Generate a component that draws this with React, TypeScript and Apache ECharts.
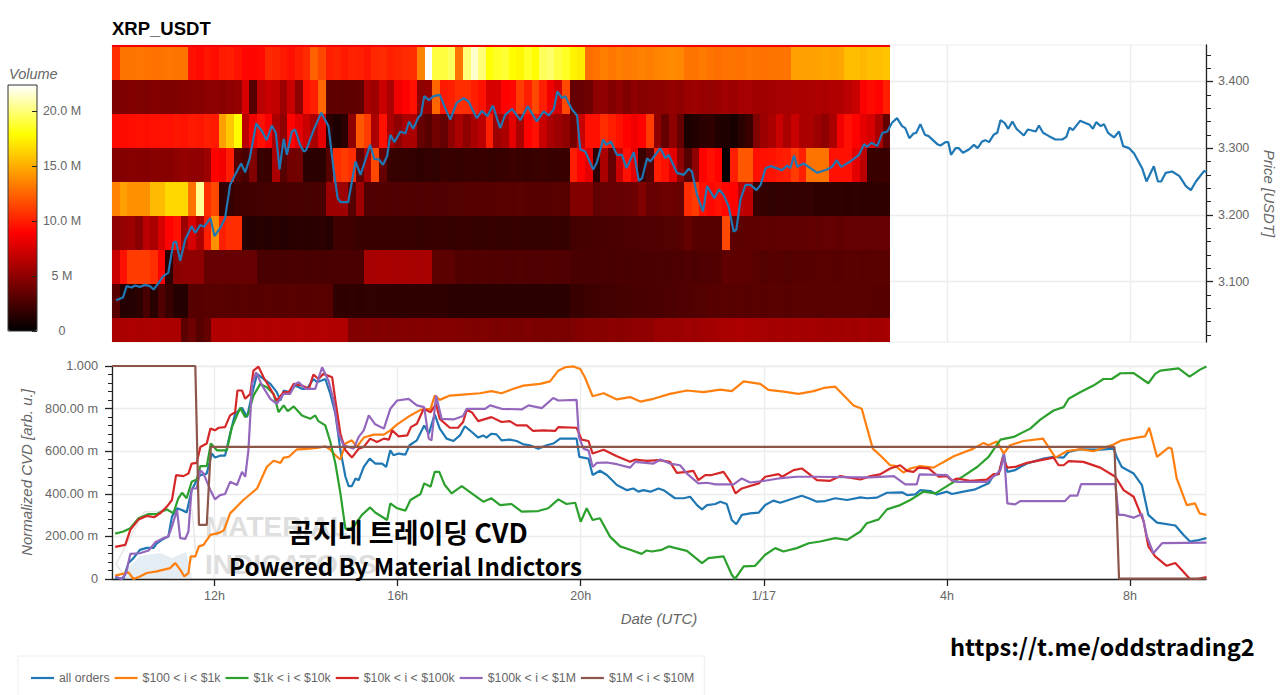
import React, { useEffect, useRef } from "react";
import * as echarts from "echarts";

const FONT = '"Liberation Sans", Arial, sans-serif';
const CJK = '"Noto Sans CJK KR", "Noto Sans", sans-serif';
const GREY = "#666666";

// x positions are hours since 00:00 on the first day (24 = 1/17)
const hourTicks = [12, 16, 20, 24, 28, 32];
const volumeTicks = [0, 5, 10, 15, 20];
const priceTicks = [3.1, 3.2, 3.3, 3.4];
const priceMinorTicks = [3.02, 3.04, 3.06, 3.08, 3.12, 3.14, 3.16, 3.18, 3.22, 3.24, 3.26, 3.28, 3.32, 3.34, 3.36, 3.38, 3.42, 3.44];
const hourMin = 9.76;
const hourMax = 33.66;
const priceMin = 3.0093;
const priceMax = 3.4547;
const volumeMax = 22.36;

const heatStartHour = 9.76;
const heatBinHours = 1 / 6;
const heatBinPrice = 0.0509;
const heatRowLows = [3.4524, 3.4015, 3.3506, 3.2997, 3.2488, 3.1979, 3.147, 3.0961, 3.0452, 2.9943];

const row345 = [
  8.5, 8.5, 8.5, 8.5, 8.5, 8.5, 8.5, 8.5, 8.5, 8.5, 8.5, 8.5, 8.5, 8.5, 8.5, 8.5, 8.5, 8.5, 8.5, 8.5,
  8.5, 8.5, 8.5, 8.5, 8.5, 8.5, 8.5, 8.5, 8.5, 8.5, 8.5, 8.5, 8.5, 8.5, 8.5, 8.5, 8.5, 8.5, 8.5, 8.5,
  8.5, 8.5, 8.5, 8.5, 8.5, 8.5, 8.5, 8.5, 8.5, 8.5, 8.5, 8.5, 8.5, 8.5, 8.5, 8.5, 8.5, 8.5, 8.5, 8.5,
  8.5, 8.5, 8.5, 8.5, 8.5, 8.5, 8.5, 8.5, 8.5, 8.5, 8.5, 8.5, 8.5, 8.5, 8.5, 8.5, 8.5, 8.5, 8.5, 8.5,
  8.5, 8.5, 8.5, 8.5, 8.5, 8.5, 8.5, 8.5, 8.5, 8.5, 8.5, 8.5, 8.5, 8.5, 8.5, 8.5, 8.5, 8.5, 8.5, 8.5,
  8.5, 8.5,
];
const row340 = [
  10.5, 13, 13, 13.1, 13, 12.9, 13, 13.1, 13, 13,
  9.5, 9.3, 9.7, 9.4, 9.9, 10, 9.6, 9.2, 9.1, 9.3,
  10.4, 10.2, 9.8, 9.5, 10, 10.4, 12.3, 11.4, 10, 10.2,
  9.8, 10.1, 10, 9.7, 10.3, 10.4, 10, 10.2, 10.4, 10.6,
  13.6, 22.3, 19, 19, 19.5, 13, 20, 21.5, 20, 18,
  18.5, 18.8, 17.8, 17.6, 18.5, 17.8, 19.5, 19.8, 19, 18.5,
  17.5, 17.2, 12.7, 13, 13.4, 13.1, 13.4, 13.2, 13.3, 13.5,
  13.3, 13.6, 13.7, 13.8, 13.7, 13, 13, 13.2, 13, 12.8,
  13, 13, 12.9, 13.1, 13, 12.9, 13, 13, 13, 14.6,
  14.6, 14.6, 14.6, 14.8, 14.6, 14.8, 15.6, 15.6, 15.4, 15.6, 15.6, 15.8,
];
const row335 = [
  4.4, 4.4, 4.5, 4.5, 4.4, 4.6, 4.5, 4.4, 4.5, 4.6,
  4.7, 4.7, 4.9, 5, 4.8, 5, 5.2, 7.5, 3, 6.5,
  7, 6.8, 5.5, 7, 5, 9.5, 10, 12.5, 3.3, 3.4,
  3.2, 3.3, 3.4, 6, 5.5, 7, 6, 8.5, 9, 9.5,
  5, 5.2, 12.5, 9.8, 10, 10.5, 10.5, 10, 9.5, 7.5,
  7.5, 9, 9.2, 11, 10, 11.5, 10, 8.5, 7.5, 11.5,
  3.5, 3.6, 3.8, 5, 5, 4.5, 5, 4.4, 5, 4.7,
  4.8, 4.9, 5, 5.2, 5, 5.4, 5.5, 5.3, 5.2, 5.4,
  5.6, 5.5, 5.8, 5.8, 5.6, 5.6, 5.7, 5.8, 5.8, 5.9,
  6, 6, 6.1, 6, 6.2, 6.2, 6.5, 7, 8.8, 9.3, 9, 10,
];
const row330 = [
  9.3, 9.3, 9.4, 9.5, 9.4, 9.5, 9.6, 9.5, 9.7, 9.6,
  9.8, 9.7, 10, 9.8, 14.5, 16, 17.8, 6.5, 8.5, 9.5,
  8.8, 6, 5, 9, 8, 7, 6, 8, 1.5, 1,
  1.5, 5, 12, 11, 6, 9.5, 6, 5, 6, 6,
  3.5, 3, 4, 3.5, 5, 6, 5, 6, 6.5, 10,
  5.5, 6, 8, 6, 9, 9.5, 7, 6, 5.5, 5,
  4, 7, 9.5, 9.5, 10.5, 10, 9.5, 9, 8.5, 9,
  11, 5, 3.5, 5, 3.5, 1, 1.2, 1.5, 1.6, 1.2,
  1.1, 0.8, 1.5, 2, 4.5, 5.5, 6, 7, 6, 7,
  6, 6, 5.5, 5, 6, 8.5, 9.5, 9, 8, 7.5, 6, 3.5,
];
const row325 = [
  4.6, 4.6, 4.7, 4.7, 4.6, 4.8, 4.8, 4.7, 5, 5.2,
  5, 5, 5.5, 9, 8.5, 10, 3, 2.5, 4.5, 2,
  2, 6, 3, 4, 4, 1.5, 1.5, 1.5, 3, 10.5,
  11, 10.5, 3.5, 6, 11.5, 3.5, 2, 1.8, 1.8, 1.7,
  1.6, 1.8, 1.7, 2, 1.9, 1.8, 2, 1.9, 2, 1.8,
  1.9, 2, 2.1, 2, 1.9, 2, 2.1, 2, 2, 2,
  10, 9, 8, 1.5, 6, 3.5, 7, 9.5, 8, 2,
  3, 10, 9.5, 8, 5, 3, 5, 9, 9.5, 9,
  0.3, 10, 12, 12, 9.5, 9.5, 9.6, 9.8, 10, 11,
  10, 13, 13, 13, 9.5, 9.5, 9.5, 8, 6.5, 2, 2, 2,
];
const row320 = [
  13.5, 14.5, 14, 14, 14, 15.5, 15.5, 16.5, 16.5, 16.5,
  13, 20.5, 10.5, 11.5, 1.8, 1.8, 2.2, 2.2, 2.3, 2.3,
  2.4, 2.4, 2.4, 2.5, 2.5, 2.4, 2.5, 2.5, 5.5, 5.5,
  5.5, 3, 5.5, 2.8, 2.8, 2.9, 2.8, 2.8, 2.9, 2.8,
  2.8, 2.9, 2.8, 2.8, 2.9, 2.9, 3, 3, 3, 3,
  3, 3.1, 3, 3.1, 3, 3, 3, 3, 3.1, 3,
  4.5, 4.5, 4.5, 3.4, 3.5, 3.6, 3.5, 3.6, 3.8, 4.5,
  3.6, 3.6, 3.8, 3.7, 3.6, 10.5, 11, 9.5, 9.2, 9.5,
  9.2, 9, 6.5, 6.5, 2, 1.8, 1.7, 1.8, 1.7, 1.8,
  1.7, 1.8, 1.6, 1.7, 1.6, 1.7, 1.6, 1.7, 1.6, 1.6, 1.7, 1.6,
];
const row315 = [
  5, 5.2, 5.5, 4.8, 6.5, 6, 7.5, 9, 9.5, 5.5,
  7.5, 6, 10, 14, 10, 10.5, 10.5, 1.3, 1.3, 1.4,
  1.3, 1.4, 1.3, 1.4, 1.5, 1.4, 1.5, 1.5, 1.3, 2.2,
  2.2, 2.2, 2, 2, 2, 1.9, 2, 1.9, 2, 1.9,
  1.8, 1.9, 2, 1.9, 1.8, 1.9, 1.9, 1.8, 1.8, 1.9,
  1.9, 1.8, 1.9, 1.9, 1.8, 1.9, 1.8, 1.9, 1.9, 1.8,
  2.3, 2.4, 2.4, 2.5, 2.5, 2.6, 2.6, 2.7, 2.7, 2.8,
  2.8, 2.8, 2.9, 2.9, 3, 3.5, 3, 3, 3, 3,
  11.5, 3.2, 3.2, 3.3, 3.3, 3.4, 3.3, 3.4, 3.4, 3.4,
  3.4, 3.5, 3.4, 3.5, 3.5, 3.4, 3.5, 3.5, 3.5, 3.5, 3.5, 3.6,
];
const row310 = [
  7, 9.5, 11, 11, 11, 10.5, 9, 1.5, 4.8, 5,
  5, 5, 3.6, 3.6, 3.6, 3.6, 3.6, 3.6, 3.6, 2.6,
  2.6, 2.6, 2.5, 2.6, 2.6, 2.5, 2.6, 2.5, 2.6, 2.6,
  2.6, 2.5, 2.6, 5.8, 5.8, 5.9, 5.8, 5.8, 5.9, 5.8,
  5.8, 5.9, 3.2, 3.2, 3.2, 2.8, 2.9, 2.8, 2.9, 2.8,
  2.9, 2.8, 2.8, 2.9, 2.8, 2.8, 2.8, 2.9, 2.8, 2.8,
  2.6, 2.5, 2.5, 2.5, 2.6, 2.5, 2.6, 2.5, 2.6, 2.6,
  2.6, 2.7, 2.6, 2.7, 2.7, 2.8, 2.7, 2.8, 2.8, 2.9,
  3.4, 3.2, 3.3, 3.2, 3, 2.9, 3, 3, 2.9, 3,
  3, 3, 3, 3.1, 3, 3, 3.1, 3.1, 3, 3.1, 3.1, 3.1,
];
const row305 = [
  3, 1.3, 1.3, 1.5, 2.5, 1.4, 2.8, 2, 1.3, 1.3,
  3, 3, 3.1, 3, 3.1, 3, 3, 3.1, 3, 3,
  3.1, 3, 3, 3.1, 3, 3, 3, 3.1, 3, 1.7,
  1.6, 1.7, 1.6, 1.7, 1.7, 1.6, 1.7, 1.6, 1.6, 1.7,
  1.6, 1.7, 1.6, 1.6, 1.5, 1.5, 1.5, 1.5, 1.5, 1.5,
  1.5, 1.5, 1.5, 1.5, 1.5, 1.5, 1.5, 1.5, 1.5, 1.5,
  2, 2, 2.2, 2.2, 2.3, 2.3, 2.4, 2.4, 2.5, 2.5,
  2.6, 2.6, 2.7, 2.7, 2.8, 2.8, 2.9, 2.9, 3, 3,
  3.1, 3, 3.1, 3, 3.1, 3, 3.1, 3.1, 3, 3.1,
  3.1, 3.1, 3, 3.1, 3.1, 3.1, 3.1, 3.1, 3.1, 3, 3, 3,
];
const row300 = [
  6, 6, 6.1, 6, 6, 6.1, 6, 6, 6, 3.2,
  3.8, 3, 3.5, 6.2, 6.2, 6.2, 6.3, 6.2, 6.2, 6.3,
  6.2, 6.3, 6.2, 6.2, 6.3, 6.2, 6.2, 6.3, 6.2, 6.2,
  6.2, 4.5, 4.5, 4.6, 4.5, 4.6, 4.5, 4.5, 4.6, 4.5,
  4.6, 4.5, 4.6, 4.6, 4.6, 4.5, 4.5, 4.4, 4.5, 4.4,
  4.3, 4.4, 4.3, 4.3, 4.4, 4.3, 4.3, 4.2, 4.3, 4.2,
  4.4, 4.6, 4.8, 4.7, 4.8, 4.9, 4.8, 4.9, 5, 5,
  5, 5.4, 5.5, 5.4, 5.5, 5.6, 5.5, 5.6, 5.7, 5.8,
  6, 6, 6.1, 6, 5.9, 5.8, 5.7, 5.8, 5.7, 5.8,
  5.7, 5.8, 5.7, 5.6, 5.7, 5.6, 5.7, 5.6, 5.8, 5.6, 5.7, 5.8,
];
const heatRows = [row345, row340, row335, row330, row325, row320, row315, row310, row305, row300];

const price = [
  [9.85, 3.072], [10.0, 3.076], [10.08, 3.093], [10.19, 3.091], [10.26, 3.094], [10.37, 3.092], [10.48, 3.095], [10.59, 3.093], [10.67, 3.088], [10.78, 3.098],
  [10.88, 3.108], [10.99, 3.113], [11.1, 3.158], [11.16, 3.16], [11.25, 3.131], [11.36, 3.163], [11.5, 3.183], [11.58, 3.173], [11.69, 3.185], [11.77, 3.182],
  [11.91, 3.195], [12.0, 3.168], [12.12, 3.18], [12.23, 3.195], [12.34, 3.245], [12.45, 3.26], [12.58, 3.277], [12.67, 3.264], [12.77, 3.285], [12.91, 3.337],
  [13.04, 3.325], [13.14, 3.312], [13.25, 3.334], [13.34, 3.323], [13.42, 3.268], [13.51, 3.314], [13.58, 3.29], [13.69, 3.325], [13.76, 3.328], [13.87, 3.305],
  [13.95, 3.295], [14.0, 3.297], [14.17, 3.328], [14.33, 3.353], [14.49, 3.333], [14.6, 3.268], [14.69, 3.225], [14.75, 3.219], [14.92, 3.219], [15.08, 3.28],
  [15.19, 3.26], [15.4, 3.305], [15.49, 3.284], [15.59, 3.283], [15.68, 3.275], [15.77, 3.288], [15.84, 3.32], [15.93, 3.309], [16.06, 3.325], [16.17, 3.322],
  [16.25, 3.34], [16.34, 3.329], [16.46, 3.347], [16.51, 3.35], [16.58, 3.378], [16.68, 3.372], [16.79, 3.378], [16.92, 3.38], [17.04, 3.36], [17.15, 3.343],
  [17.29, 3.368], [17.44, 3.375], [17.55, 3.37], [17.62, 3.36], [17.73, 3.345], [17.84, 3.356], [17.96, 3.348], [18.08, 3.364], [18.24, 3.33], [18.35, 3.35],
  [18.5, 3.359], [18.68, 3.342], [18.84, 3.363], [19.04, 3.34], [19.19, 3.355], [19.3, 3.349], [19.41, 3.358], [19.49, 3.385], [19.59, 3.375], [19.66, 3.378],
  [19.81, 3.358], [19.92, 3.349], [19.99, 3.298], [20.1, 3.295], [20.27, 3.268], [20.35, 3.278], [20.49, 3.313], [20.56, 3.305], [20.66, 3.31], [20.79, 3.29],
  [20.9, 3.29], [21.0, 3.27], [21.16, 3.294], [21.27, 3.251], [21.34, 3.255], [21.45, 3.285], [21.52, 3.28], [21.74, 3.3], [21.85, 3.285], [21.92, 3.29],
  [22.1, 3.263], [22.25, 3.26], [22.36, 3.269], [22.43, 3.265], [22.54, 3.23], [22.67, 3.205], [22.76, 3.243], [22.92, 3.225], [23.02, 3.238], [23.12, 3.23],
  [23.23, 3.213], [23.34, 3.175], [23.4, 3.178], [23.49, 3.223], [23.6, 3.245], [23.71, 3.245], [23.84, 3.237], [23.93, 3.245], [24.04, 3.27], [24.15, 3.273],
  [24.4, 3.267], [24.51, 3.274], [24.58, 3.27], [24.66, 3.289], [24.73, 3.272], [24.87, 3.277], [25.17, 3.263], [25.38, 3.268], [25.49, 3.272], [25.59, 3.282],
  [25.69, 3.272], [25.89, 3.28], [26.08, 3.29], [26.19, 3.306], [26.26, 3.302], [26.35, 3.308], [26.48, 3.303], [26.59, 3.323], [26.7, 3.325], [26.8, 3.338],
  [26.91, 3.345], [27.02, 3.333], [27.09, 3.33], [27.18, 3.315], [27.27, 3.322], [27.33, 3.323], [27.42, 3.336], [27.52, 3.32], [27.6, 3.318], [27.79, 3.306],
  [27.86, 3.304], [27.97, 3.309], [28.03, 3.309], [28.09, 3.29], [28.19, 3.3], [28.26, 3.3], [28.35, 3.293], [28.48, 3.298], [28.59, 3.305], [28.67, 3.3],
  [28.77, 3.31], [28.84, 3.312], [28.92, 3.309], [29.02, 3.32], [29.1, 3.323], [29.17, 3.342], [29.26, 3.338], [29.34, 3.329], [29.43, 3.34], [29.52, 3.329],
  [29.68, 3.319], [29.77, 3.328], [29.94, 3.325], [30.01, 3.334], [30.1, 3.323], [30.23, 3.318], [30.37, 3.313], [30.52, 3.313], [30.61, 3.317], [30.68, 3.331],
  [30.75, 3.327], [30.91, 3.341], [31.05, 3.337], [31.12, 3.335], [31.19, 3.329], [31.26, 3.339], [31.36, 3.333], [31.43, 3.336], [31.52, 3.323], [31.65, 3.316],
  [31.76, 3.325], [31.85, 3.303], [31.98, 3.3], [32.09, 3.292], [32.27, 3.269], [32.36, 3.25], [32.52, 3.273], [32.61, 3.25], [32.68, 3.25], [32.78, 3.263],
  [32.92, 3.265], [33.08, 3.258], [33.22, 3.243], [33.33, 3.237], [33.44, 3.25], [33.62, 3.266], [33.67, 3.264],
];

const allOrders = [
  [9.83, 0.005], [10.01, 0.003], [10.12, 0.075], [10.23, 0.098], [10.37, 0.137], [10.52, 0.146], [10.67, 0.146], [10.74, 0.168], [10.88, 0.188], [10.99, 0.199],
  [11.07, 0.293], [11.18, 0.332], [11.29, 0.324], [11.39, 0.312], [11.5, 0.417], [11.61, 0.464], [11.69, 0.488], [11.83, 0.495], [11.94, 0.589], [12.01, 0.57],
  [12.12, 0.579], [12.23, 0.579], [12.34, 0.682], [12.45, 0.776], [12.6, 0.804], [12.71, 0.76], [12.82, 0.869], [12.93, 0.963], [13.07, 0.939], [13.22, 0.916],
  [13.36, 0.877], [13.44, 0.838], [13.51, 0.885], [13.65, 0.877], [13.76, 0.908], [13.91, 0.893], [14.02, 0.893], [14.16, 0.939], [14.24, 0.924], [14.42, 0.939],
  [14.53, 0.869], [14.64, 0.776], [14.75, 0.604], [14.86, 0.48], [14.93, 0.436], [15.0, 0.436], [15.08, 0.472], [15.15, 0.464], [15.26, 0.526], [15.39, 0.565],
  [15.51, 0.542], [15.66, 0.542], [15.75, 0.526], [15.84, 0.604], [15.91, 0.581], [16.02, 0.589], [16.17, 0.584], [16.26, 0.628], [16.42, 0.651], [16.58, 0.721],
  [16.68, 0.682], [16.81, 0.773], [16.92, 0.706], [17.07, 0.659], [17.22, 0.648], [17.36, 0.674], [17.47, 0.717], [17.62, 0.69], [17.76, 0.664], [17.87, 0.674],
  [17.94, 0.664], [18.05, 0.682], [18.16, 0.679], [18.27, 0.651], [18.45, 0.654], [18.6, 0.648], [18.75, 0.632], [18.89, 0.628], [19.07, 0.612], [19.26, 0.628],
  [19.4, 0.636], [19.55, 0.659], [19.91, 0.659], [19.97, 0.573], [20.17, 0.565], [20.26, 0.488], [20.42, 0.508], [20.57, 0.488], [20.79, 0.441], [21.01, 0.417],
  [21.15, 0.425], [21.26, 0.41], [21.37, 0.417], [21.52, 0.41], [21.7, 0.425], [21.81, 0.417], [22.06, 0.379], [22.25, 0.379], [22.39, 0.386], [22.54, 0.347],
  [22.65, 0.327], [22.76, 0.347], [22.94, 0.352], [23.05, 0.363], [23.19, 0.352], [23.3, 0.277], [23.4, 0.257], [23.52, 0.301], [23.7, 0.308], [23.89, 0.312],
  [24.03, 0.347], [24.21, 0.368], [24.36, 0.358], [24.54, 0.371], [24.83, 0.391], [24.98, 0.379], [25.16, 0.363], [25.34, 0.366], [25.56, 0.379], [25.82, 0.371],
  [26.11, 0.383], [26.25, 0.379], [26.47, 0.382], [26.69, 0.405], [27.02, 0.407], [27.13, 0.394], [27.31, 0.397], [27.42, 0.417], [27.64, 0.413], [27.78, 0.397],
  [28.0, 0.41], [28.11, 0.399], [28.36, 0.41], [28.62, 0.421], [28.91, 0.449], [29.02, 0.488], [29.13, 0.492], [29.24, 0.586], [29.32, 0.503], [29.49, 0.511],
  [29.6, 0.526], [29.75, 0.542], [30.11, 0.565], [30.33, 0.573], [30.55, 0.57], [30.66, 0.597], [30.91, 0.609], [31.35, 0.607], [31.64, 0.612], [31.71, 0.573],
  [31.82, 0.526], [32.08, 0.495], [32.26, 0.441], [32.4, 0.301], [32.59, 0.265], [32.99, 0.251], [33.17, 0.207], [33.31, 0.176], [33.46, 0.181], [33.67, 0.192],
];

const orders100to1k = [
  [9.83, 0.016], [10.12, 0.031], [10.23, 0], [10.37, 0.012], [10.52, 0.028], [10.74, 0.036], [11.03, 0.051], [11.14, 0.075], [11.25, 0.044], [11.34, 0.012],
  [11.43, 0.028], [11.48, 0.106], [11.58, 0.106], [11.66, 0.153], [11.76, 0.16], [11.91, 0.207], [12.12, 0.218], [12.21, 0.231], [12.34, 0.308], [12.49, 0.34],
  [12.63, 0.371], [12.93, 0.425], [13.14, 0.526], [13.29, 0.555], [13.44, 0.545], [13.51, 0.57], [13.62, 0.573], [13.8, 0.609], [14.02, 0.611], [14.24, 0.615],
  [14.42, 0.623], [14.53, 0.607], [14.64, 0.581], [14.75, 0.561], [14.86, 0.636], [15.0, 0.651], [15.11, 0.62], [15.26, 0.664], [15.48, 0.678], [15.7, 0.678],
  [15.84, 0.698], [15.99, 0.726], [16.28, 0.768], [16.5, 0.794], [16.72, 0.799], [16.81, 0.861], [16.92, 0.841], [17.14, 0.861], [17.43, 0.866], [17.8, 0.872],
  [18.05, 0.882], [18.27, 0.872], [18.53, 0.893], [18.75, 0.908], [19.11, 0.916], [19.33, 0.928], [19.51, 0.978], [19.66, 0.994], [19.84, 0.998], [19.99, 0.986],
  [20.09, 0.947], [20.26, 0.858], [20.5, 0.872], [20.79, 0.843], [21.08, 0.854], [21.3, 0.833], [21.59, 0.846], [21.95, 0.869], [22.32, 0.885], [22.68, 0.877],
  [23.05, 0.889], [23.3, 0.882], [23.56, 0.928], [23.92, 0.916], [24.1, 0.888], [24.43, 0.88], [24.76, 0.869], [25.09, 0.882], [25.31, 0.897], [25.56, 0.903],
  [25.78, 0.854], [25.96, 0.815], [26.14, 0.799], [26.25, 0.713], [26.38, 0.612], [26.54, 0.581], [26.76, 0.534], [26.87, 0.531], [27.05, 0.5], [27.2, 0.519],
  [27.42, 0.53], [27.71, 0.523], [27.89, 0.545], [28.15, 0.576], [28.58, 0.612], [28.8, 0.639], [28.91, 0.628], [29.09, 0.646], [29.24, 0.589], [29.38, 0.628],
  [29.67, 0.648], [30.1, 0.659], [30.37, 0.57], [30.62, 0.6], [30.91, 0.609], [31.2, 0.6], [31.64, 0.631], [31.82, 0.651], [32.15, 0.664], [32.33, 0.67],
  [32.42, 0.71], [32.59, 0.573], [32.84, 0.617], [32.91, 0.612], [33.02, 0.472], [33.24, 0.347], [33.42, 0.355], [33.52, 0.308], [33.67, 0.301],
];

const orders1kto10k = [
  [9.83, 0.213], [10.01, 0.223], [10.16, 0.238], [10.34, 0.285], [10.56, 0.305], [10.74, 0.305], [10.88, 0.321], [10.96, 0.327], [11.1, 0.308], [11.21, 0.379],
  [11.29, 0.405], [11.39, 0.379], [11.5, 0.456], [11.61, 0.467], [11.69, 0.53], [11.83, 0.53], [11.92, 0.636], [12.05, 0.604], [12.27, 0.604], [12.38, 0.713],
  [12.56, 0.804], [12.67, 0.76], [12.74, 0.776], [12.85, 0.861], [13.0, 0.916], [13.14, 0.9], [13.29, 0.869], [13.4, 0.783], [13.51, 0.815], [13.6, 0.788],
  [13.73, 0.81], [13.91, 0.768], [14.09, 0.752], [14.2, 0.768], [14.27, 0.741], [14.42, 0.721], [14.53, 0.643], [14.64, 0.542], [14.75, 0.402], [14.86, 0.235],
  [14.97, 0.238], [15.04, 0.246], [15.22, 0.301], [15.4, 0.336], [15.51, 0.312], [15.77, 0.277], [15.84, 0.355], [15.99, 0.332], [16.17, 0.321], [16.28, 0.371],
  [16.5, 0.399], [16.58, 0.449], [16.72, 0.433], [16.81, 0.503], [16.91, 0.503], [17.03, 0.441], [17.18, 0.402], [17.4, 0.436], [17.62, 0.402], [17.87, 0.363],
  [18.05, 0.379], [18.24, 0.347], [18.49, 0.352], [18.71, 0.316], [19.07, 0.319], [19.29, 0.332], [19.51, 0.374], [19.69, 0.352], [19.88, 0.358], [20.0, 0.269],
  [20.13, 0.332], [20.26, 0.277], [20.42, 0.285], [20.64, 0.199], [20.86, 0.153], [21.08, 0.137], [21.33, 0.118], [21.44, 0.134], [21.55, 0.129], [21.77, 0.137],
  [21.92, 0.153], [22.32, 0.132], [22.65, 0.075], [22.79, 0.098], [23.12, 0.106], [23.3, 0.02], [23.37, 0], [23.56, 0.059], [23.81, 0.062], [24.03, 0.114],
  [24.25, 0.145], [24.43, 0.129], [24.72, 0.145], [24.98, 0.168], [25.23, 0.176], [25.56, 0.192], [25.82, 0.184], [26.11, 0.223], [26.25, 0.262], [26.51, 0.28],
  [26.69, 0.327], [26.98, 0.347], [27.2, 0.371], [27.49, 0.41], [27.75, 0.402], [28.0, 0.436], [28.36, 0.483], [28.66, 0.526], [28.91, 0.573], [29.06, 0.62],
  [29.17, 0.654], [29.46, 0.667], [29.82, 0.706], [30.04, 0.748], [30.33, 0.791], [30.55, 0.807], [30.66, 0.846], [30.91, 0.877], [31.2, 0.908], [31.42, 0.939],
  [31.6, 0.939], [31.79, 0.966], [32.08, 0.967], [32.4, 0.919], [32.55, 0.963], [32.66, 0.978], [33.06, 0.989], [33.3, 0.95], [33.53, 0.983], [33.67, 0.998],
];

const orders10kto100k = [
  [9.83, 0.151], [10.05, 0.16], [10.16, 0.231], [10.34, 0.28], [10.52, 0.296], [10.68, 0.29], [10.81, 0.308], [10.96, 0.34], [11.07, 0.371], [11.16, 0.488],
  [11.32, 0.483], [11.43, 0.495], [11.5, 0.542], [11.61, 0.545], [11.69, 0.62], [11.83, 0.636], [11.91, 0.706], [12.01, 0.698], [12.09, 0.71], [12.23, 0.713],
  [12.34, 0.768], [12.45, 0.783], [12.5, 0.885], [12.6, 0.885], [12.67, 0.846], [12.78, 0.869], [12.85, 0.978], [12.96, 0.997], [13.07, 0.947], [13.22, 0.893],
  [13.36, 0.838], [13.51, 0.877], [13.62, 0.877], [13.73, 0.916], [13.91, 0.908], [14.06, 0.893], [14.16, 0.96], [14.27, 0.939], [14.38, 0.963], [14.57, 0.947],
  [14.64, 0.838], [14.75, 0.682], [14.86, 0.604], [15.0, 0.57], [15.15, 0.612], [15.26, 0.62], [15.4, 0.659], [15.55, 0.643], [15.7, 0.659], [15.81, 0.654],
  [15.88, 0.698], [16.02, 0.67], [16.21, 0.674], [16.29, 0.713], [16.42, 0.729], [16.57, 0.799], [16.72, 0.783], [16.84, 0.822], [16.92, 0.752], [17.14, 0.71],
  [17.32, 0.71], [17.43, 0.737], [17.51, 0.794], [17.62, 0.783], [17.76, 0.741], [18.05, 0.76], [18.27, 0.737], [18.45, 0.741], [18.6, 0.721], [18.82, 0.721],
  [18.96, 0.695], [19.18, 0.698], [19.44, 0.695], [19.51, 0.713], [19.91, 0.71], [20.02, 0.654], [20.17, 0.648], [20.26, 0.589], [20.5, 0.607], [20.79, 0.576],
  [21.08, 0.55], [21.19, 0.561], [21.44, 0.555], [21.7, 0.558], [21.95, 0.55], [22.1, 0.498], [22.32, 0.503], [22.46, 0.508], [22.57, 0.464], [22.72, 0.488],
  [22.86, 0.488], [23.12, 0.503], [23.27, 0.456], [23.38, 0.402], [23.52, 0.425], [23.89, 0.449], [24.03, 0.48], [24.32, 0.492], [24.4, 0.48], [24.65, 0.511],
  [24.83, 0.519], [24.98, 0.495], [25.16, 0.464], [25.45, 0.461], [25.67, 0.483], [26.11, 0.467], [26.33, 0.483], [26.54, 0.491], [26.76, 0.519], [26.98, 0.534],
  [27.13, 0.508], [27.27, 0.503], [27.38, 0.523], [27.6, 0.519], [27.82, 0.48], [28.0, 0.483], [28.11, 0.461], [28.22, 0.472], [28.51, 0.461], [28.87, 0.467],
  [29.02, 0.492], [29.13, 0.492], [29.22, 0.57], [29.32, 0.523], [29.49, 0.526], [29.75, 0.545], [30.33, 0.57], [30.44, 0.534], [30.55, 0.534], [30.66, 0.553],
  [30.98, 0.55], [31.35, 0.523], [31.68, 0.48], [31.86, 0.417], [32.08, 0.386], [32.3, 0.269], [32.4, 0.153], [32.55, 0.106], [32.8, 0.062], [32.99, 0.075],
  [33.31, 0], [33.46, 0], [33.67, 0.009],
];

const orders100kto1m = [
  [9.83, 0.012], [9.97, 0], [10.07, 0.028], [10.16, 0.118], [10.37, 0.121], [10.56, 0.134], [10.7, 0.171], [10.88, 0.192], [10.99, 0.199], [11.07, 0.246],
  [11.18, 0.324], [11.25, 0.192], [11.36, 0.188], [11.43, 0.223], [11.5, 0.425], [11.61, 0.425], [11.69, 0.511], [11.76, 0.495], [11.91, 0.417], [12.01, 0.374],
  [12.12, 0.394], [12.23, 0.399], [12.34, 0.456], [12.49, 0.441], [12.6, 0.503], [12.67, 0.48], [12.74, 0.604], [12.82, 0.916], [12.91, 0.97], [13.04, 0.908],
  [13.22, 0.846], [13.36, 0.822], [13.51, 0.869], [13.65, 0.869], [13.76, 0.916], [13.84, 0.924], [13.98, 0.893], [14.2, 0.893], [14.35, 0.994], [14.49, 0.931],
  [14.6, 0.838], [14.71, 0.682], [14.82, 0.628], [15.04, 0.612], [15.15, 0.667], [15.26, 0.698], [15.37, 0.768], [15.51, 0.726], [15.7, 0.706], [15.84, 0.799],
  [15.99, 0.838], [16.24, 0.846], [16.42, 0.815], [16.58, 0.807], [16.68, 0.659], [16.74, 0.651], [16.84, 0.861], [16.96, 0.752], [17.22, 0.749], [17.43, 0.765],
  [17.51, 0.799], [17.91, 0.799], [18.02, 0.815], [18.27, 0.799], [18.71, 0.796], [18.86, 0.815], [19.15, 0.802], [19.4, 0.85], [19.51, 0.838], [19.91, 0.841],
  [19.96, 0.667], [20.06, 0.612], [20.17, 0.604], [20.26, 0.526], [20.35, 0.545], [20.57, 0.547], [20.79, 0.539], [21.08, 0.523], [21.19, 0.55], [21.59, 0.542],
  [21.74, 0.561], [21.95, 0.542], [22.17, 0.534], [22.32, 0.495], [22.57, 0.449], [22.76, 0.452], [22.94, 0.444], [23.34, 0.444], [23.52, 0.472], [23.7, 0.453],
  [23.99, 0.46], [24.32, 0.472], [24.72, 0.48], [25.09, 0.48], [26.11, 0.477], [26.33, 0.477], [26.84, 0.483], [27.09, 0.444], [27.34, 0.444], [27.4, 0.491],
  [28.0, 0.488], [28.11, 0.464], [28.22, 0.456], [28.87, 0.456], [29.06, 0.488], [29.17, 0.511], [29.25, 0.586], [29.32, 0.355], [29.49, 0.35], [29.6, 0.366],
  [30.58, 0.366], [30.69, 0.391], [30.85, 0.391], [30.93, 0.445], [31.68, 0.445], [31.75, 0.301], [31.86, 0.301], [32.08, 0.288], [32.26, 0.305], [32.37, 0.199],
  [32.51, 0.121], [32.7, 0.168], [33.67, 0.171],
];

const orders1mto10m = [
  [9.76, 1], [11.58, 1], [11.66, 0.254], [11.83, 0.254], [11.92, 0.62], [31.66, 0.62], [31.76, 0.002], [33.67, 0.002],
];

const cvdLines = [
  { name: "all orders", data: allOrders, color: "#1f77b4" },
  { name: "$100 < i < $1k", data: orders100to1k, color: "#ff7f0e" },
  { name: "$1k < i < $10k", data: orders1kto10k, color: "#2ca02c" },
  { name: "$10k < i < $100k", data: orders10kto100k, color: "#d62728" },
  { name: "$100k < i < $1M", data: orders100kto1m, color: "#9467bd" },
  { name: "$1M < i < $10M", data: orders1mto10m, color: "#8c564b" },
];

const hotColors = ["#000000", "#800000", "#ff0000", "#ff8000", "#ffff00", "#ffffff"];

function hourLabel(v: number) {
  if (v === 24) return "1/17";
  return `${v > 24 ? v - 24 : v}h`;
}
function cvdLabel(v: number) {
  if (v === 0) return "0";
  if (v >= 1) return "1.000";
  return `${(v * 1000).toFixed(2)} m`;
}
function volumeLabel(v: number) {
  if (v === 0) return "0";
  if (v === 5) return "5 M";
  return `${v.toFixed(1)} M`;
}

export default function App() {
  const ref = useRef<HTMLDivElement>(null);
  useEffect(() => {
    document.body.style.margin = "0";
    const chart = echarts.init(ref.current!, undefined, { renderer: "svg" });
    const heatData: number[][] = [];
    heatRows.forEach((row, r) => {
      row.forEach((v, c) => heatData.push([heatStartHour + c * heatBinHours, heatRowLows[r], v]));
    });
    const gridLine = { show: true, lineStyle: { color: "#ececec", width: 1.3 } };
    const option: any = {
      animation: false,
      backgroundColor: "#fff",
      textStyle: { fontFamily: FONT },
      title: {
        text: "XRP_USDT",
        left: 112,
        top: 19,
        padding: 0,
        textStyle: { fontFamily: FONT, fontSize: 18.5, fontWeight: "bold", color: "#000" },
      },
      grid: [
        { left: 112, right: 74, top: 45, height: 297, show: true, borderColor: "#ececec", borderWidth: 1, backgroundColor: "#fff", outerBoundsMode: "none" },
        { left: 112, right: 74, top: 366, height: 213, show: true, borderColor: "#ececec", borderWidth: 1, backgroundColor: "transparent", outerBoundsMode: "none" },
        { left: 37, width: 10, top: 85, height: 246, outerBoundsMode: "none" },
      ],
      xAxis: [
        {
          gridIndex: 0, type: "value", min: hourMin, max: hourMax,
          axisLine: { show: false },
          axisTick: { show: false, customValues: hourTicks },
          axisLabel: { show: false },
          splitLine: gridLine,
        },
        {
          gridIndex: 1, type: "value", min: hourMin, max: hourMax,
          name: "Date (UTC)", nameLocation: "middle", nameGap: 32,
          nameTextStyle: { fontStyle: "italic", fontSize: 15, color: GREY, fontFamily: FONT },
          axisLine: { onZero: false, lineStyle: { color: "#222", width: 1.3 } },
          axisTick: { show: true, length: 7, lineStyle: { color: "#222", width: 1.3 }, customValues: hourTicks },
          axisLabel: { customValues: hourTicks, formatter: hourLabel, color: GREY, fontSize: 12.5, margin: 10, fontFamily: FONT },
          splitLine: gridLine,
        },
        { gridIndex: 2, type: "value", min: 0, max: 1, show: false },
      ],
      yAxis: [
        {
          gridIndex: 0, type: "value", position: "right", min: priceMin, max: priceMax,
          name: "Price [USDT]", nameLocation: "middle", nameGap: 56, nameRotate: -90,
          nameTextStyle: { fontStyle: "italic", fontSize: 15, color: GREY, fontFamily: FONT },
          axisLine: { show: true, onZero: false, lineStyle: { color: "#222", width: 1.3 } },
          axisTick: { show: true, length: 7, lineStyle: { color: "#222", width: 1.3 }, customValues: priceTicks },
          axisLabel: { customValues: priceTicks, formatter: (v: number) => v.toFixed(3), color: GREY, fontSize: 12.5, margin: 12, fontFamily: FONT },
          splitLine: gridLine,
        },
        {
          gridIndex: 0, type: "value", position: "right", min: priceMin, max: priceMax,
          axisLine: { show: false },
          axisTick: { show: true, length: 5, lineStyle: { color: "#222", width: 1 }, customValues: priceMinorTicks },
          axisLabel: { show: false },
          splitLine: { show: false },
        },
        {
          gridIndex: 1, type: "value", min: 0, max: 1, interval: 0.2,
          name: "Normalized CVD [arb. u.]", nameLocation: "middle", nameGap: 73,
          nameTextStyle: { fontStyle: "italic", fontSize: 15, color: GREY, fontFamily: FONT },
          axisLine: { show: true, onZero: false, lineStyle: { color: "#222", width: 1.3 } },
          axisTick: { show: true, length: 7, lineStyle: { color: "#222", width: 1.3 } },
          minorTick: { show: true, splitNumber: 5, length: 4, lineStyle: { color: "#222", width: 1 } },
          axisLabel: { formatter: cvdLabel, color: GREY, fontSize: 12.7, margin: 14, fontFamily: FONT },
          splitLine: gridLine,
        },
        {
          gridIndex: 2, type: "value", position: "left", min: 0, max: volumeMax,
          axisLine: { show: false },
          axisTick: { show: true, length: 5, lineStyle: { color: "#222" }, customValues: volumeTicks },
          axisLabel: { inside: true, customValues: volumeTicks, formatter: volumeLabel, color: GREY, fontSize: 12.5, margin: 25, align: "center", fontFamily: FONT },
          splitLine: { show: false },
          z: 6,
        },
      ],
      visualMap: {
        type: "continuous",
        min: 0, max: volumeMax, dimension: 2, seriesIndex: 0,
        left: 8, top: 85, itemWidth: 29, itemHeight: 246, padding: 0,
        calculable: false, realtime: false, text: null, hoverLink: false,
        inRange: { color: hotColors },
        z: 4,
      },
      legend: {
        left: 18, top: 656, width: 688,
        padding: [16, 10, 12, 13],
        borderColor: "#eeeeee", borderWidth: 1,
        itemGap: 5, itemWidth: 23, itemHeight: 2.2,
        icon: "rect",
        textStyle: { color: GREY, fontSize: 12.3, fontFamily: FONT },
        data: cvdLines.map((s) => s.name),
      },
      graphic: [
        { type: "polygon", z: 0, shape: { points: [[116, 564], [144, 512], [192, 510], [196, 556], [168, 578], [126, 578]] }, style: { fill: "#fff", stroke: "#e6e6e6", lineWidth: 1.5 } },
        { type: "polygon", z: 0, shape: { points: [[122, 574], [140, 556], [160, 553], [172, 558], [186, 552], [192, 578], [126, 578]] }, style: { fill: "#e3edf3", stroke: "none" } },
        { type: "text", z: 0, x: 205, y: 526, style: { text: "MATERIAL", font: `bold 28px ${FONT}`, fill: "#dedede", textVerticalAlign: "middle" } },
        { type: "text", z: 0, x: 205, y: 564, style: { text: "INDICATORS", font: `bold 28px ${FONT}`, fill: "#dedede", textVerticalAlign: "middle" } },
        { type: "rect", z: 10, shape: { x: 8, y: 85, width: 29, height: 246 }, style: { fill: "none", stroke: "#333", lineWidth: 1 } },
        { type: "text", z: 10, x: 9, y: 74, style: { text: "Volume", font: `italic 14.5px ${FONT}`, fill: GREY, textVerticalAlign: "middle" } },
        { type: "text", z: 100, x: 408, y: 531, style: { text: "곰지네 트레이딩 CVD", font: `bold 27px ${CJK}`, fill: "#000", textAlign: "center", textVerticalAlign: "middle" } },
        { type: "text", z: 100, x: 229, y: 565, style: { text: "Powered By Material Indictors", font: `bold 24px ${CJK}`, fill: "#000", textVerticalAlign: "middle" } },
        { type: "text", z: 100, x: 950, y: 646, style: { text: "https://t.me/oddstrading2", font: `bold 23.6px ${CJK}`, fill: "#000", textVerticalAlign: "middle" } },
      ],
      series: [
        {
          name: "Volume",
          type: "custom",
          xAxisIndex: 0,
          yAxisIndex: 0,
          z: 1,
          silent: true,
          encode: { x: 0, y: 1 },
          data: heatData,
          renderItem: (params: any, api: any) => {
            const h = api.value(0);
            const low = api.value(1);
            const a = api.coord([h, low + heatBinPrice]);
            const b = api.coord([h + heatBinHours, low]);
            const cs = params.coordSys;
            const shape = echarts.graphic.clipRectByRect(
              { x: a[0], y: a[1], width: b[0] - a[0], height: b[1] - a[1] },
              { x: cs.x, y: cs.y, width: cs.width, height: cs.height }
            );
            if (!shape) return null;
            const x0 = Math.round(shape.x);
            const x1 = Math.round(shape.x + shape.width);
            const y0 = Math.round(shape.y);
            const y1 = Math.round(shape.y + shape.height);
            return {
              type: "rect",
              shape: { x: x0, y: y0, width: x1 - x0, height: y1 - y0 },
              style: { fill: api.visual("color") },
            };
          },
        },
        {
          name: "Price",
          type: "line",
          xAxisIndex: 0,
          yAxisIndex: 0,
          z: 3,
          symbol: "none",
          lineStyle: { color: "#1f77b4", width: 2.2 },
          itemStyle: { color: "#1f77b4" },
          data: price,
        },
        ...cvdLines.map((s) => ({
          name: s.name,
          type: "line",
          xAxisIndex: 1,
          yAxisIndex: 2,
          z: 3,
          symbol: "none",
          clip: true,
          lineStyle: { color: s.color, width: 2.2 },
          itemStyle: { color: s.color },
          data: s.data,
        })),
      ],
    };
    chart.setOption(option);
    return () => chart.dispose();
  }, []);
  return <div ref={ref} style={{ position: "absolute", left: 0, top: 0, width: 1280, height: 695, overflow: "hidden" }} />;
}
